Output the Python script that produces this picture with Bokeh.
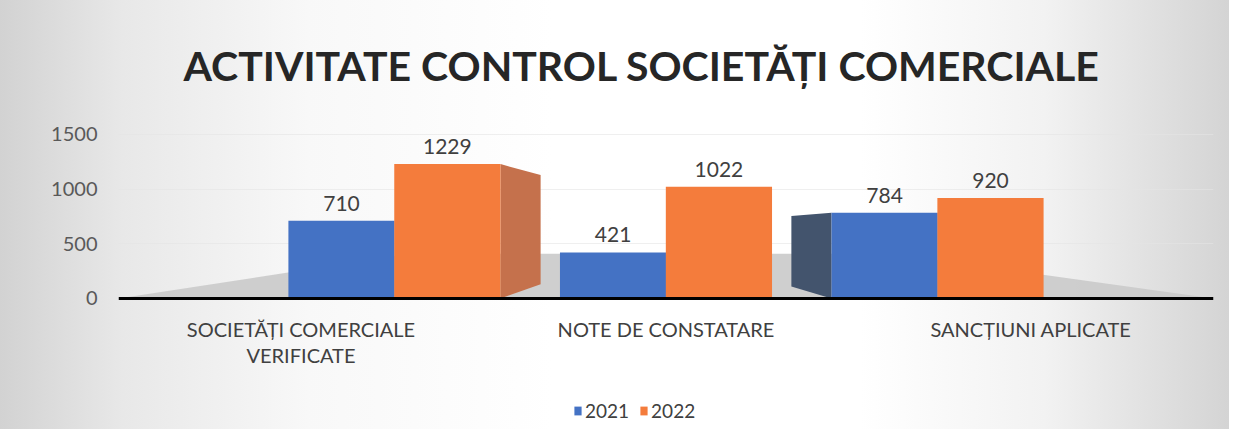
from bokeh.plotting import figure
from bokeh.models import (ColumnDataSource, Range1d, FixedTicker, Legend, LegendItem,
                          LabelSet, PolyAnnotation, Span)
from bokeh.core.properties import value
from bokeh.embed import file_html
from bokeh.resources import INLINE

# ---- data ----
categories = ["SOCIETĂȚI COMERCIALE\nVERIFICATE", "NOTE DE CONSTATARE", "SANCȚIUNI APLICATE"]
series_names = ["2021", "2022"]
values_2021 = [710, 421, 784]
values_2022 = [1229, 1022, 920]
y_ticks = [0, 500, 1000, 1500]
title_text = "ACTIVITATE CONTROL SOCIETĂȚI COMERCIALE"

# ---- styling / layout ----
FONT = "Lato"
BLUE = "#4472C4"
ORANGE = "#F47C3C"
BLUE_SIDE = "#43546D"
ORANGE_SIDE = "#C5714C"
persp = 0.744      # perspective compression of bar groups toward the centre
half = 0.145       # offset of each bar from its group centre
bar_w = 0.291
depth = 0.11       # apparent depth of the outer side faces (x units)

n = len(categories)
centers = [1 + (i - (n - 1) / 2) * persp for i in range(n)]
x21 = [c - half for c in centers]
x22 = [c + half for c in centers]

src21 = ColumnDataSource(dict(x=x21, top=values_2021, lab=[str(v) for v in values_2021]))
src22 = ColumnDataSource(dict(x=x22, top=values_2022, lab=[str(v) for v in values_2022]))

lines = [c.split("\n") for c in categories]
src_l1 = ColumnDataSource(dict(x=list(range(n)), y=[0] * n, lab=[l[0] for l in lines]))
idx2 = [i for i, l in enumerate(lines) if len(l) > 1]
src_l2 = ColumnDataSource(dict(x=idx2, y=[0] * len(idx2), lab=[lines[i][1] for i in idx2]))

p = figure(width=1229, height=429, output_backend="svg", toolbar_location=None,
           x_range=Range1d(-0.5, n - 0.5), y_range=Range1d(-1198, 1646),
           min_border_left=118, min_border_right=16, min_border_top=118, min_border_bottom=0)

p.styles = {"background": "linear-gradient(90deg, #d2d2d2 0%, #e8e8e8 10%, #f8f8f8 25%, #ffffff 45%, #ffffff 70%, #f2f2f2 85%, #d4d4d4 100%)"}
p.border_fill_alpha = 0
p.background_fill_alpha = 0
p.outline_line_color = None

# title
p.title.text = title_text
p.title.align = "left"
p.title.offset = 65
p.title.text_font = FONT
p.title.text_font_style = "bold"
p.title.text_font_size = "41px"
p.title.text_color = "#262626"
p.title.standoff = 57

# floor (decorative, in data space)
floor = PolyAnnotation(xs=[-0.5, 0.3, 1.62, n - 0.5], ys=[0, 410, 410, 0],
                       fill_color="#cacaca", fill_alpha=0.9, line_color=None, level="underlay")
p.add_layout(floor)

# side faces of the outer bars (3-D look), derived from the bar values
xo = x22[0] + bar_w / 2
xb = x21[-1] - bar_w / 2
t_o = values_2022[0]
t_b = values_2021[-1]
p.patches(xs=[[xo, xo + depth, xo + depth, xo], [xb, xb - depth, xb - depth, xb]],
          ys=[[0, 130, t_o - 100, t_o], [0, 110, t_b - 30, t_b]],
          fill_color=[ORANGE_SIDE, BLUE_SIDE], line_color=None)

r21 = p.vbar(x="x", top="top", bottom=0, width=bar_w, source=src21, fill_color=BLUE, line_color=None)
r22 = p.vbar(x="x", top="top", bottom=0, width=bar_w, source=src22, fill_color=ORANGE, line_color=None)

for src in (src21, src22):
    p.add_layout(LabelSet(x="x", y="top", text="lab", source=src, text_align="center",
                          text_baseline="bottom", y_offset=10, text_font=value(FONT),
                          text_font_size=value("21px"), text_color="#404040"))

# category axis: base line + labels under it
p.add_layout(Span(location=0, dimension="width", line_color="black", line_width=3))
for src, off in ((src_l1, -19), (src_l2, -45)):
    p.add_layout(LabelSet(x="x", y="y", text="lab", source=src, text_align="center",
                          text_baseline="top", y_offset=off, text_font=value(FONT),
                          text_font_size=value("20px"), text_color="#404040"))

p.xaxis.visible = False

ya = p.yaxis[0]
ya.ticker = FixedTicker(ticks=y_ticks)
ya.axis_line_color = None
ya.major_tick_line_color = None
ya.minor_tick_line_color = None
ya.major_label_standoff = 15
ya.major_label_text_font = FONT
ya.major_label_text_font_size = "20px"
ya.major_label_text_color = "#595959"

p.xgrid.grid_line_color = None
p.ygrid.grid_line_color = "#e4e4e4"
p.ygrid.grid_line_alpha = 0.6

legend = Legend(items=[LegendItem(label=series_names[0], renderers=[r21]),
                       LegendItem(label=series_names[1], renderers=[r22])],
                orientation="horizontal", location=(455, 7),
                glyph_width=9, glyph_height=11, label_text_font=FONT,
                label_text_font_size="19px", label_text_color="#404040",
                background_fill_alpha=0, border_line_color=None,
                spacing=10, label_standoff=3, margin=0, padding=0)
p.add_layout(legend)

open("out.html", "w").write(file_html(p, INLINE))
